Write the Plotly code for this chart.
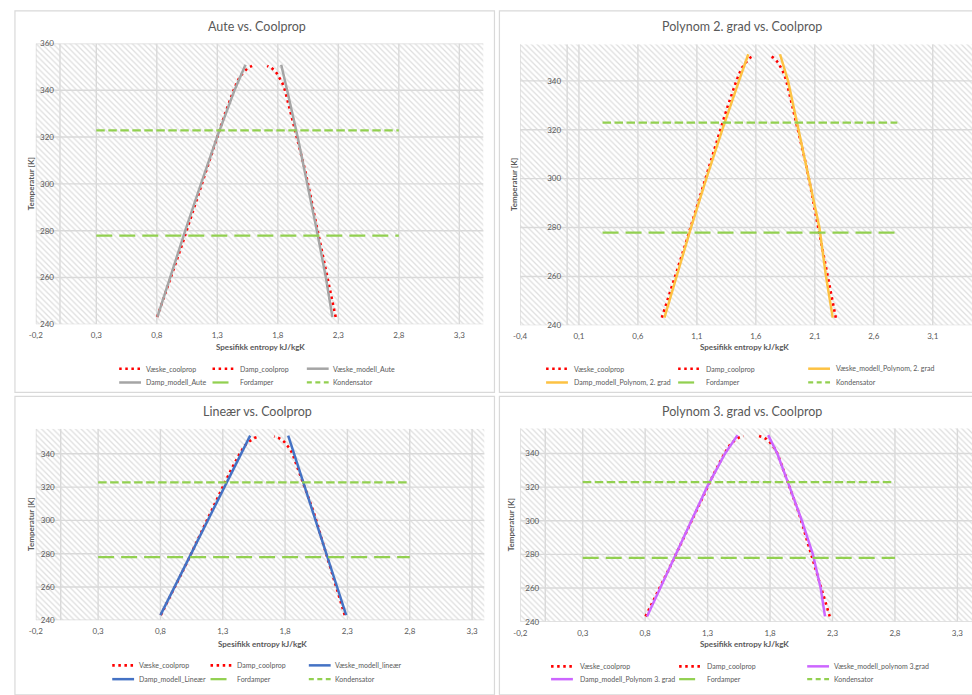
import plotly.graph_objects as go

W, H = 972, 695

# CoolProp saturation curve: temperature [K] and specific entropy [kJ/kgK]
T_sat = [243.15, 250, 255, 260, 265, 270, 275, 280, 285, 290, 295, 300, 305,
         310, 315, 320, 325, 330, 335, 340, 343, 345, 347, 348.5, 349.5, 350.4]
s_liq = [0.803, 0.850, 0.884, 0.917, 0.950, 0.983, 1.015, 1.046, 1.077, 1.108,
         1.139, 1.170, 1.201, 1.233, 1.265, 1.298, 1.331, 1.364, 1.398, 1.435,
         1.460, 1.478, 1.505, 1.530, 1.552, 1.587]
s_vap = [2.278, 2.250, 2.229, 2.207, 2.186, 2.166, 2.146, 2.127, 2.108, 2.089,
         2.070, 2.051, 2.029, 2.005, 1.981, 1.956, 1.932, 1.908, 1.884, 1.859,
         1.838, 1.818, 1.795, 1.772, 1.748, 1.712]

# Model curves
T_mod = [243.15, 260, 280, 300, 320, 340, 350.9]
aute_liq = [0.805, 0.908, 1.035, 1.165, 1.298, 1.442, 1.533]
aute_vap = [2.251, 2.197, 2.123, 2.046, 1.964, 1.877, 1.828]
poly2_liq = [0.825, 0.926, 1.050, 1.180, 1.315, 1.457, 1.536]
poly2_vap = [2.252, 2.195, 2.139, 2.052, 1.962, 1.873, 1.805]
poly3_liq = [0.815, 0.920, 1.040, 1.165, 1.295, 1.440, 1.540]
poly3_vap = [2.240, 2.205, 2.143, 2.055, 1.957, 1.858, 1.785]
T_lin = [243.15, 350.9]
lin_liq = [0.800, 1.520]
lin_vap = [2.290, 1.825]

# Evaporator / condenser temperature levels
s_level = [0.3, 2.8]
T_evap = 277.9
T_cond = 322.9

# Axis ticks
x_ticks_a = [-0.2, 0.3, 0.8, 1.3, 1.8, 2.3, 2.8, 3.3]
x_labels_a = ["-0,2", "0,3", "0,8", "1,3", "1,8", "2,3", "2,8", "3,3"]
x_ticks_b = [-0.4, 0.1, 0.6, 1.1, 1.6, 2.1, 2.6, 3.1]
x_labels_b = ["-0,4", "0,1", "0,6", "1,1", "1,6", "2,1", "2,6", "3,1"]
y_ticks_a = [240, 260, 280, 300, 320, 340, 360]
y_ticks_b = [240, 260, 280, 300, 320, 340]

FONT = "Lato, 'Open Sans', sans-serif"
GRID = "#D9D9D9"
TXT = "#595959"
RED = "#FF0000"
GREEN = "#92D050"
HATCH = "#BDBDBD"
DOT = "2.5px,3.6px"
LONGDASH = "16px,7px"
DASH = "8.5px,3.5px"


def px(x):
    return x / W


def py(y):
    return 1 - y / H


panels = [
    dict(title="Aute vs. Coolprop", color="#A5A5A5", T=T_mod, liq=aute_liq, vap=aute_vap,
         liq_name="Væske_modell_Aute", vap_name="Damp_modell_Aute",
         box=(29, 39, 480, 324), xr=(-0.2, 3.5), yr=(240, 360),
         xt=(x_ticks_a, x_labels_a), yt=y_ticks_a, frame=(8, 6, 491, 393),
         title_pos=(252, 22), xtitle_pos=(255, 347), ytitle_x=24.5,
         rows=(369, 383), cols=[(113, 138), (207, 233), (302, 326)]),
    dict(title="Polynom 2. grad vs. Coolprop", color="#FDC243", T=T_mod, liq=poly2_liq, vap=poly2_vap,
         liq_name="Væske_modell_Polynom, 2. grad", vap_name="Damp_modell_Polynom, 2. grad",
         box=(516.7, 39.8, 972, 325), xr=(-0.4, 3.433), yr=(240, 355),
         xt=(x_ticks_b, x_labels_b), yt=y_ticks_b, frame=(496, 6, 976, 393),
         title_pos=(740, 22), xtitle_pos=(743, 347), ytitle_x=510,
         rows=(369, 383), cols=[(543, 569), (676, 702), (807, 833)]),
    dict(title="Lineær vs. Coolprop", color="#4472C4", T=T_lin, liq=lin_liq, vap=lin_vap,
         liq_name="Væske_modell_lineær", vap_name="Damp_modell_Lineær",
         box=(29, 430, 481, 624.3), xr=(-0.2, 3.4), yr=(240, 355),
         xt=(x_ticks_a, x_labels_a), yt=y_ticks_b, frame=(8, 397, 491, 700),
         title_pos=(252, 412), xtitle_pos=(257, 648), ytitle_x=23.5,
         rows=(670, 684), cols=[(106, 131), (205, 230), (304, 328)]),
    dict(title="Polynom 3. grad vs. Coolprop", color="#CC66FF", T=T_mod, liq=poly3_liq, vap=poly3_vap,
         liq_name="Væske_modell_polynom 3.grad", vap_name="Damp_modell_Polynom 3. grad",
         box=(517, 429.4, 972, 625.7), xr=(-0.2, 3.417), yr=(240, 355),
         xt=(x_ticks_a, x_labels_a), yt=y_ticks_b, frame=(496, 397, 976, 700),
         title_pos=(740, 412), xtitle_pos=(743, 648), ytitle_x=508,
         rows=(671, 684), cols=[(548, 575), (677, 703), (806, 831)]),
]

fig = go.Figure()
shapes = []
annotations = []
axes = {}

for i, p in enumerate(panels, start=1):
    xa = "x" if i == 1 else f"x{i}"
    ya = "y" if i == 1 else f"y{i}"
    l, t, r, b = p["box"]
    x0, x1 = p["xr"]
    y0, y1 = p["yr"]

    # hatched plot-area background
    fig.add_trace(go.Scatter(
        x=[x0, x1, x1, x0, x0], y=[y0, y0, y1, y1, y0], mode="none", fill="toself",
        fillcolor="rgba(0,0,0,0)",
        fillpattern=dict(shape="\\", fgcolor=HATCH, bgcolor="rgba(0,0,0,0)",
                         size=4, solidity=0.32),
        xaxis=xa, yaxis=ya, hoverinfo="skip", showlegend=False))

    # gridlines on top of the hatch, below the series
    gx, gy = [], []
    for v in p["xt"][0] + [0]:
        gx += [v, v, None]
        gy += [y0, y1, None]
    for v in p["yt"]:
        gx += [x0, x1, None]
        gy += [v, v, None]
    fig.add_trace(go.Scatter(x=gx, y=gy, mode="lines", line=dict(color=GRID, width=1.4),
                             xaxis=xa, yaxis=ya, hoverinfo="skip", showlegend=False))

    series = [
        ("Væske_coolprop", s_liq, T_sat, dict(color=RED, width=2.6, dash=DOT)),
        ("Damp_coolprop", s_vap, T_sat, dict(color=RED, width=2.6, dash=DOT)),
        (p["liq_name"], p["liq"], p["T"], dict(color=p["color"], width=2.5)),
        (p["vap_name"], p["vap"], p["T"], dict(color=p["color"], width=2.5)),
        ("Fordamper", s_level, [T_evap, T_evap], dict(color=GREEN, width=2.25, dash=LONGDASH)),
        ("Kondensator", s_level, [T_cond, T_cond], dict(color=GREEN, width=2.25, dash=DASH)),
    ]
    for name, xs, ys, line in series:
        fig.add_trace(go.Scatter(x=xs, y=ys, mode="lines", name=name, line=line,
                                 xaxis=xa, yaxis=ya, showlegend=False))

    zero_x = l + (0 - x0) / (x1 - x0) * (r - l)
    axes["xaxis" if i == 1 else f"xaxis{i}"] = dict(
        domain=[px(l), px(r)], range=[x0, x1], anchor=ya,
        tickvals=p["xt"][0], ticktext=p["xt"][1],
        showgrid=False, zeroline=False, showline=False, ticks="", ticklabelstandoff=5,
        tickfont=dict(family=FONT, size=8, color=TXT), fixedrange=True)
    axes["yaxis" if i == 1 else f"yaxis{i}"] = dict(
        domain=[py(b), py(t)], range=[y0, y1], anchor="free", position=px(zero_x),
        tickvals=p["yt"], showgrid=False, zeroline=False, showline=False,
        ticks="", ticklabelstandoff=6,
        tickfont=dict(family=FONT, size=8, color=TXT), fixedrange=True)

    # chart frame
    fl, ft, fr, fb = p["frame"]
    shapes.append(dict(type="rect", xref="paper", yref="paper",
                       x0=px(fl), x1=px(fr), y0=py(fb), y1=py(ft),
                       line=dict(color=GRID, width=1.2), layer="below"))

    # titles
    tx, ty = p["title_pos"]
    annotations.append(dict(text=p["title"], x=px(tx), y=py(ty), xref="paper", yref="paper",
                            showarrow=False, xanchor="center", yanchor="middle",
                            font=dict(family=FONT, size=12.5, color=TXT)))
    ax_, ay_ = p["xtitle_pos"]
    annotations.append(dict(text="<b>Spesifikk entropy kJ/kgK</b>", x=px(ax_), y=py(ay_),
                            xref="paper", yref="paper", showarrow=False,
                            xanchor="center", yanchor="middle",
                            font=dict(family=FONT, size=8, color=TXT)))
    annotations.append(dict(text="<b>Temperatur [K]</b>", x=px(p["ytitle_x"]), y=py((t + b) / 2),
                            xref="paper", yref="paper", showarrow=False, textangle=-90,
                            xanchor="center", yanchor="middle",
                            font=dict(family=FONT, size=8, color=TXT)))

    # legend
    entries = [
        [(dict(color=RED, width=2.6, dash=DOT), "Væske_coolprop"),
         (dict(color=RED, width=2.6, dash=DOT), "Damp_coolprop"),
         (dict(color=p["color"], width=2.5), p["liq_name"])],
        [(dict(color=p["color"], width=2.5), p["vap_name"]),
         (dict(color=GREEN, width=2.25, dash=LONGDASH), "Fordamper"),
         (dict(color=GREEN, width=2.25, dash="5px,3.5px"), "Kondensator")],
    ]
    for row_y, row in zip(p["rows"], entries):
        for (sx, txx), (line, label) in zip(p["cols"], row):
            shapes.append(dict(type="line", xref="paper", yref="paper",
                               x0=px(sx), x1=px(sx + 22), y0=py(row_y), y1=py(row_y), line=line))
            annotations.append(dict(text=label, x=px(txx), y=py(row_y), xref="paper", yref="paper",
                                    showarrow=False, xanchor="left", yanchor="middle",
                                    font=dict(family=FONT, size=7, color=TXT)))

fig.update_layout(
    width=W, height=H, margin=dict(l=0, r=0, t=0, b=0),
    paper_bgcolor="white", plot_bgcolor="white",
    showlegend=False, shapes=shapes, annotations=annotations, **axes)

fig.write_html("out.html")
